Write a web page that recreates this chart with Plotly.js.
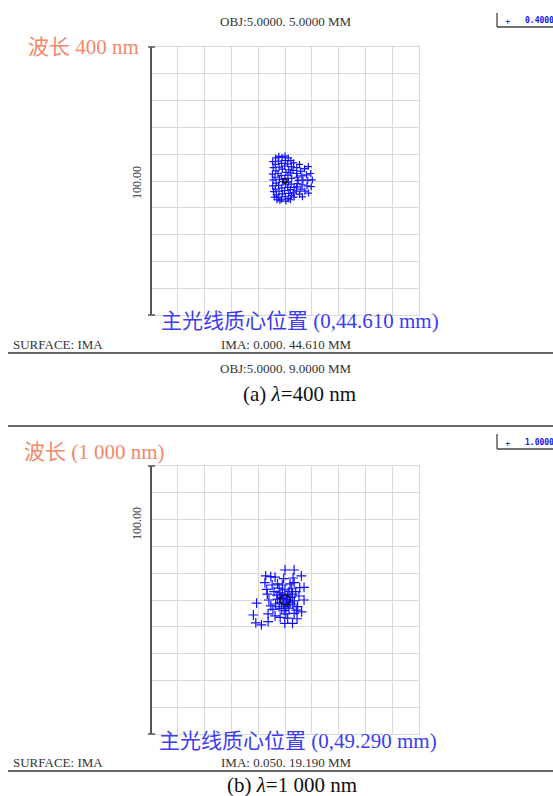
<!DOCTYPE html>
<html>
<head>
<meta charset="utf-8">
<script src="https://cdn.plot.ly/plotly-3.0.1.min.js"></script>
<style>html,body{margin:0;padding:0;background:#fff;}#chart{width:553px;height:796px;}</style>
</head>
<body>
<div id="chart"></div>
<script>
// ---- data (spot diagram ray intercepts, µm relative to centroid) ----
const top_x = [-4.6,-4.4,-4.7,-4.5,-4.6,-4.3,-4.0,
  -3.5,-3.6,-3.4,-3.7,-3.3,-3.6,-3.2,-3.0,
  -2.3,-2.5,-2.2,-2.6,-2.1,-2.4,-2.2,-2.5,-1.9,
  -1.1,-1.3,-1.0,-1.4,-0.9,-1.2,-1.0,-1.3,
  0.0,0.2,-0.1,0.3,0.0,0.2,-0.2,0.1,0.3,
  1.2,1.0,1.4,1.1,1.3,1.0,1.4,1.2,
  2.2,2.4,2.1,2.5,2.3,2.0,2.4,2.0,
  3.2,3.0,3.4,3.1,3.4,
  4.4,5.4,
  4.3,5.8,7.3,8.7,
  4.6,6.3,8.0,9.6,
  4.9,6.7,8.5,10.2,
  4.6,6.4,8.2,9.8,
  4.4,5.9,7.4,8.8,
  4.2,5.4,6.5];
const top_y = [7.2,5.0,2.6,0.4,-1.8,-4.0,-6.0,
  8.6,6.2,3.8,1.4,-0.8,-3.0,-5.2,-7.0,
  9.2,7.4,5.2,2.8,0.6,-1.6,-3.8,-6.0,-7.4,
  8.8,6.6,4.4,2.0,-0.2,-2.6,-4.8,-6.8,
  9.3,7.6,5.6,3.2,1.0,-1.4,-3.6,-5.8,-7.5,
  8.6,6.4,4.2,2.2,-0.4,-2.4,-4.6,-6.6,
  7.6,5.4,3.0,1.0,-1.2,-3.2,-5.4,-7.0,
  6.8,4.0,-2.4,-4.4,-6.0,
  5.0,6.2,
  2.8,3.7,4.6,5.4,
  1.4,1.9,2.3,2.8,
  0.2,0.3,0.3,0.4,
  -1.0,-1.4,-1.8,-2.1,
  -2.2,-3.0,-3.8,-4.5,
  -3.8,-4.9,-5.9];

const bot_x = [0,3.4,-7.2,-5.3,-3.7,6.1,-7.5,-2.8,-1,1.9,3.4,7.1,-6.8,-4.1,-1.9,1.5,4,-6.6,5.2,7.1,-6,-2.8,-10.6,-5.3,-2.2,2.9,4.7,6.2,-11.8,-6.3,-3.7,0.3,3.4,-10.9,-8.8,-6.3,-0.1,2.8,
  -1.5,1,-0.5,1.8,-2,0.5,-1,2.2,0.3,-1.3,1.5,2.8,-3,-3.5,3.5,0,-0.3,2.5,-2.2,4.2,-4.5,-4.8,1,-1.8,5.5,3,-0.5,4.5,1.2,-0.8,0.9];
const bot_y = [11.2,11.2,9,8.7,8.5,9,6.5,6,5.6,6,6.5,4.7,4,3.1,2.7,3.1,3.1,2.2,1.5,0,0,0.3,-1.2,-2.2,-2.5,-1.5,-2.5,-4.4,-5.6,-5.2,-5.9,-5.2,-5,-8.5,-9.3,-8.1,-8.7,-8.7,
  1,1.5,-1.2,-0.8,-1,0.2,2.2,1,-2.5,-3.2,-3,2.2,1.8,-1.5,-0.3,3.8,-4,4.2,4.4,-3.8,-3.5,5.6,-6.8,-6.5,4.6,8.2,8,-7,-1.8,0.6,-0.3];

const airyRadius = [0.8, 1.9];          // µm, black circle
const legendWave = ["0.4000", "1.0000"];
const scaleLabel = "100.00";
const waveTitle = ["波长 400 nm", "波长 (1 000 nm)"];
const centroidTitle = ["主光线质心位置 (0,44.610 mm)", "主光线质心位置 (0,49.290 mm)"];
const objText = ["OBJ:5.0000. 5.0000 MM", "OBJ:5.0000. 9.0000 MM"];
const imaText = ["IMA: 0.000. 44.610 MM", "IMA: 0.050. 19.190 MM"];
const captions = ["(a) <i>λ</i>=400 nm", "(b) <i>λ</i>=1 000 nm"];

// ---- layout helpers (pixel -> paper) ----
const W = 553, H = 796;
const px = v => v / W;
const py = v => 1 - v / H;
const serif = "Liberation Serif, 'Noto Sans CJK SC', serif";

const markerStyle = (sz) => ({symbol: 'cross-thin', size: sz, color: '#1010ff', line: {color: '#1010ff', width: 1.2}});

const traces = [
  {x: top_x, y: top_y, type: 'scatter', mode: 'markers', marker: markerStyle(5), xaxis: 'x', yaxis: 'y', hoverinfo: 'skip'},
  {x: bot_x, y: bot_y, type: 'scatter', mode: 'markers', marker: markerStyle(7), xaxis: 'x2', yaxis: 'y2', hoverinfo: 'skip'}
];

const axBase = {range: [-50, 50], dtick: 10, tick0: 0, showgrid: true, gridcolor: '#d9d9d9', gridwidth: 1,
  zeroline: false, showticklabels: false, ticks: '', showline: true, linecolor: '#d9d9d9', linewidth: 1, mirror: true, fixedrange: true};

const panels = [{top: 47, bot: 315}, {top: 466, bot: 734}];
const plotL = 151, plotR = 419;

const ann = (text, x, y, size, color, xanchor, extra) => Object.assign({
  text: text, xref: 'paper', yref: 'paper', x: px(x), y: py(y), xanchor: xanchor || 'center', yanchor: 'middle',
  showarrow: false, font: {family: serif, size: size, color: color}
}, extra || {});

const annotations = [];
const shapes = [];

const pos = [
  {obj: 22, wave: [26, 47], cent: [300, 321], scale: 183, surf: 344, obj2: 368, cap: [299, 394], leg: [13, 27], line: 353},
  {obj: null, wave: [22, 452], cent: [298, 741], scale: 524, surf: 762, obj2: null, cap: [292, 785], leg: [434, 449], line: 771}
];

for (let i = 0; i < 2; i++) {
  const p = pos[i];
  if (i === 0) annotations.push(ann(objText[0], 286, p.obj, 13, '#333', 'center'));
  annotations.push(ann(waveTitle[i], p.wave[0], p.wave[1], 21, '#f2876a', 'left'));
  annotations.push(ann(centroidTitle[i], p.cent[0], p.cent[1], 21, '#3c3cf2', 'center'));
  annotations.push(ann(scaleLabel, 137, p.scale, 12, '#333', 'center', {textangle: -90}));
  annotations.push(ann('SURFACE: IMA', 11, p.surf, 13, '#333', 'left'));
  annotations.push(ann(imaText[i], 286, p.surf, 13, '#333', 'center'));
  if (i === 0) annotations.push(ann(objText[1], 286, p.obj2, 13, '#333', 'center'));
  annotations.push(ann(captions[i], p.cap[0], p.cap[1], 21, '#111', 'center'));
  annotations.push(ann('+', 508, (p.leg[0] + p.leg[1]) / 2 + 1, 9, '#1010ff', 'center', {font: {family: 'DejaVu Sans Mono', size: 9, color: '#1010ff'}}));
  annotations.push(ann(legendWave[i], 523, (p.leg[0] + p.leg[1]) / 2 + 1, 8, '#1010ff', 'left', {font: {family: 'DejaVu Sans Mono', size: 8, color: '#1010ff', weight: 'bold'}}));
  shapes.push({type: 'line', xref: 'paper', yref: 'paper', x0: px(497), x1: px(497), y0: py(p.leg[0]), y1: py(p.leg[1]), line: {color: '#444', width: 1.3}});
  shapes.push({type: 'line', xref: 'paper', yref: 'paper', x0: px(497), x1: px(553), y0: py(p.leg[1]), y1: py(p.leg[1]), line: {color: '#444', width: 1.3}});
  shapes.push({type: 'line', xref: 'paper', yref: 'paper', x0: px(8), x1: px(553), y0: py(p.line), y1: py(p.line), line: {color: '#666', width: 2}});
  const pn = panels[i];
  shapes.push({type: 'line', xref: 'paper', yref: 'paper', x0: px(plotL), x1: px(plotL), y0: py(pn.top), y1: py(pn.bot), line: {color: '#555', width: 2}});
  shapes.push({type: 'line', xref: 'paper', yref: 'paper', x0: px(plotL - 3), x1: px(plotL + 4), y0: py(pn.top), y1: py(pn.top), line: {color: '#555', width: 1.5}});
  shapes.push({type: 'line', xref: 'paper', yref: 'paper', x0: px(plotL - 3), x1: px(plotL + 4), y0: py(pn.bot), y1: py(pn.bot), line: {color: '#555', width: 1.5}});
  const xr = i === 0 ? 'x' : 'x2', yr = i === 0 ? 'y' : 'y2';
  shapes.push({type: 'circle', xref: xr, yref: yr, x0: -airyRadius[i], x1: airyRadius[i], y0: -airyRadius[i], y1: airyRadius[i], line: {color: '#111', width: 1.5}, layer: 'above'});
}
shapes.push({type: 'line', xref: 'paper', yref: 'paper', x0: px(8), x1: px(553), y0: py(426), y1: py(426), line: {color: '#666', width: 2}});

const layout = {
  width: W, height: H, margin: {l: 0, r: 0, t: 0, b: 0},
  paper_bgcolor: '#fff', plot_bgcolor: '#fff', showlegend: false,
  xaxis: Object.assign({}, axBase, {domain: [px(plotL), px(plotR)], anchor: 'y'}),
  yaxis: Object.assign({}, axBase, {domain: [py(panels[0].bot), py(panels[0].top)], anchor: 'x'}),
  xaxis2: Object.assign({}, axBase, {domain: [px(plotL), px(plotR)], anchor: 'y2'}),
  yaxis2: Object.assign({}, axBase, {domain: [py(panels[1].bot), py(panels[1].top)], anchor: 'x2'}),
  annotations: annotations, shapes: shapes
};

Plotly.newPlot('chart', traces, layout, {staticPlot: true, displayModeBar: false});
</script>
</body>
</html>
